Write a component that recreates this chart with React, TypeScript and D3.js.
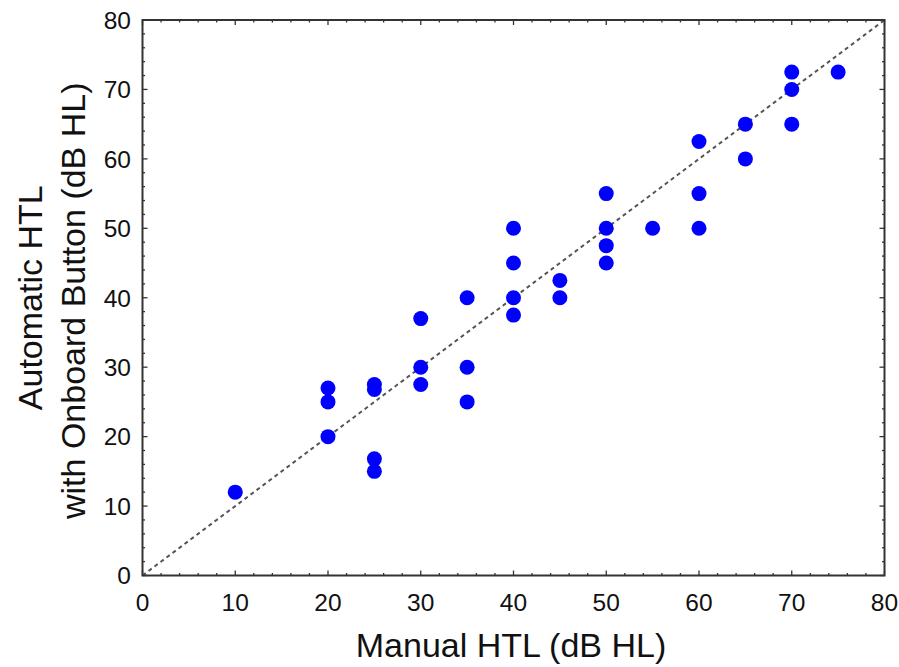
import React from "react";
import * as d3 from "d3";

const manualHTL = [10, 20, 20, 20, 25, 25, 25, 25, 30, 30, 30, 35, 35, 35, 40, 40, 40, 40, 45, 45, 50, 50, 50, 50, 55, 60, 60, 60, 65, 65, 70, 70, 70, 75];
const automaticHTL = [12, 20, 25, 27, 15, 16.8, 26.8, 27.5, 27.5, 30, 37, 25, 30, 40, 37.5, 40, 45, 50, 40, 42.5, 45, 47.5, 50, 55, 50, 50, 55, 62.5, 60, 65, 65, 70, 72.5, 72.5];
const tickValues = [0, 10, 20, 30, 40, 50, 60, 70, 80];
const xTitle = "Manual HTL (dB HL)";
const yTitleLines = ["Automatic HTL", "with Onboard Button (dB HL)"];

const W = 899;
const H = 667;
const L = 142.5, R = 884.5, T = 20, B = 575.5;

export default function App() {
  const x = d3.scaleLinear().domain([0, 80]).range([L, R]);
  const y = d3.scaleLinear().domain([0, 80]).range([B, T]);
  const minor = d3.range(0, 81, 2);
  const font = "'Liberation Sans', Arial, sans-serif";
  const axisColor = "#333";
  const line = d3.line<number>().x((d) => x(d)).y((d) => y(d));

  return (
    <svg width={W} height={H} style={{ position: "absolute", left: 0, top: 0, background: "#fff" }} fontFamily={font}>
      <rect x={0} y={0} width={W} height={H} fill="#fff" />
      <path d={line([0, 80]) || ""} stroke="#555" strokeWidth={2} strokeDasharray="4 3.5" fill="none" />
      {manualHTL.map((m, i) => (
        <circle key={i} cx={x(m)} cy={y(automaticHTL[i])} r={7.5} fill="#0000ff" />
      ))}
      <rect x={L} y={T} width={R - L} height={B - T} fill="none" stroke={axisColor} strokeWidth={2} />
      {minor.map((v) => {
        const major = v % 10 === 0;
        const len = major ? 5 : 2.5;
        return (
          <g key={v} stroke={axisColor} strokeWidth={1.3}>
            <line x1={x(v)} x2={x(v)} y1={B} y2={B - len} />
            <line x1={x(v)} x2={x(v)} y1={T} y2={T + len} />
            <line x1={L} x2={L + len} y1={y(v)} y2={y(v)} />
            <line x1={R} x2={R - len} y1={y(v)} y2={y(v)} />
          </g>
        );
      })}
      {tickValues.map((v) => (
        <text key={"x" + v} x={x(v)} y={611} textAnchor="middle" fontSize={24.5} fill="#111">
          {v}
        </text>
      ))}
      {tickValues.map((v) => (
        <text key={"y" + v} x={131} y={y(v)} dy="0.36em" textAnchor="end" fontSize={24.5} fill="#111">
          {v}
        </text>
      ))}
      <text x={511} y={657} textAnchor="middle" fontSize={34} fill="#111">
        {xTitle}
      </text>
      <g transform={`translate(0, ${(T + B) / 2}) rotate(-90)`}>
        <text x={0} y={42} textAnchor="middle" fontSize={34} fill="#111">
          {yTitleLines[0]}
        </text>
        <text x={-3} y={85} textAnchor="middle" fontSize={34} fill="#111">
          {yTitleLines[1]}
        </text>
      </g>
    </svg>
  );
}
